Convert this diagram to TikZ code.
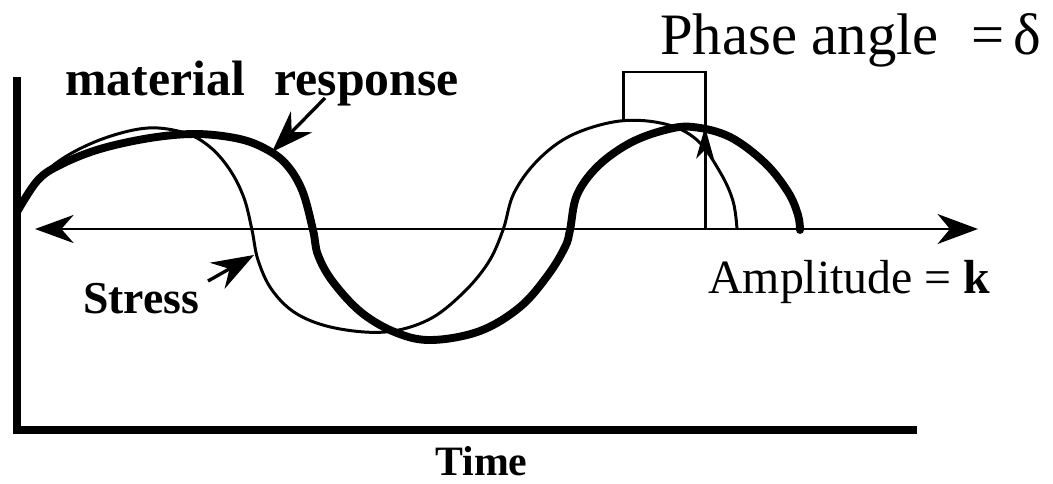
\documentclass[tikz,border=0pt]{standalone}
\usepackage{fontspec}
\setmainfont{Liberation Serif}
\usetikzlibrary{arrows.meta}
\begin{document}
\begin{tikzpicture}[x = 0.02cm, y = -0.02cm,
  stress/.style = {line width = 1.7pt},
  response/.style = {line width = 4.5pt, line cap = round},
  label/.style = {anchor = base west, inner sep = 0pt},
  pointer/.style = {-{Stealth[length = 24pt, width = 17pt, inset = 8pt]}, line width = 1.9pt}]
\useasboundingbox (0,0) rectangle (1053,483);
\draw[line width = 4.5pt] (17,77) -- (17,430) -- (917,430);
\draw[line width = 1.6pt, {Stealth[length = 22pt, width = 16pt, inset = 7pt]}-{Stealth[length = 23pt, width = 17pt, inset = 7pt]}] (35,229) -- (978,229);
\draw[stress] plot[smooth, tension = 0.6] coordinates {(17,212) (38,180) (65,157) (105,138) (148,128) (185,133) (210,147) (230,170) (244,198) (252,230) (258,260) (272,290) (297,314) (335,328) (385,332) (428,320) (462,294) (488,263) (503,230) (514,193) (538,160) (572,135) (620,121) (665,124) (697,140) (720,172) (733,201) (737,229)};
\draw[response] plot[smooth, tension = 0.6] coordinates {(17,212) (38,180) (62,164) (100,149) (150,138) (195,134) (235,138) (262,147) (285,163) (302,190) (313,230) (318,255) (333,282) (362,313) (397,333) (432,340) (480,331) (520,307) (548,275) (565,247) (570,230) (577,195) (598,166) (630,143) (665,130) (693,127) (730,137) (765,163) (788,192) (798,215) (800,230)};
\coordinate (pk1) at (623,120);
\coordinate (pk2) at (705,127);
\coordinate (foot) at (705,229);
\draw[line width = 1.7pt, -{Stealth[length = 18pt, width = 10pt, inset = 5pt]}] (foot) -- (pk2);
\draw[line width = 1.7pt] (pk1) |- (705,72) -- (pk2);
\node[label, font = \bfseries\fontsize{28.3}{34}\selectfont] at (65,95) (mat) {material\hspace{0.6em}response};
\node[label, font = \bfseries\fontsize{26}{31}\selectfont] at (83,313) (str) {Stress};
\node[label, font = \fontsize{27.2}{32}\selectfont] at (708,293) (amp) {Amplitude = \textbf{k}};
\node[label, font = \fontsize{33.4}{40}\selectfont] at (660,55) (phase) {Phase angle\hspace{0.55em}=\hspace{0.15em}δ};
\node[label, font = \bfseries\fontsize{23.8}{28}\selectfont] at (435,475) (time) {Time};
\coordinate (matTail) at (325,98);
\coordinate (matTip) at (272,152);
\coordinate (strTail) at (208,281);
\coordinate (strTip) at (254,255);
\draw[pointer] (matTail) -- (matTip);
\draw[pointer] (strTail) -- (strTip);
\end{tikzpicture}
\end{document}
